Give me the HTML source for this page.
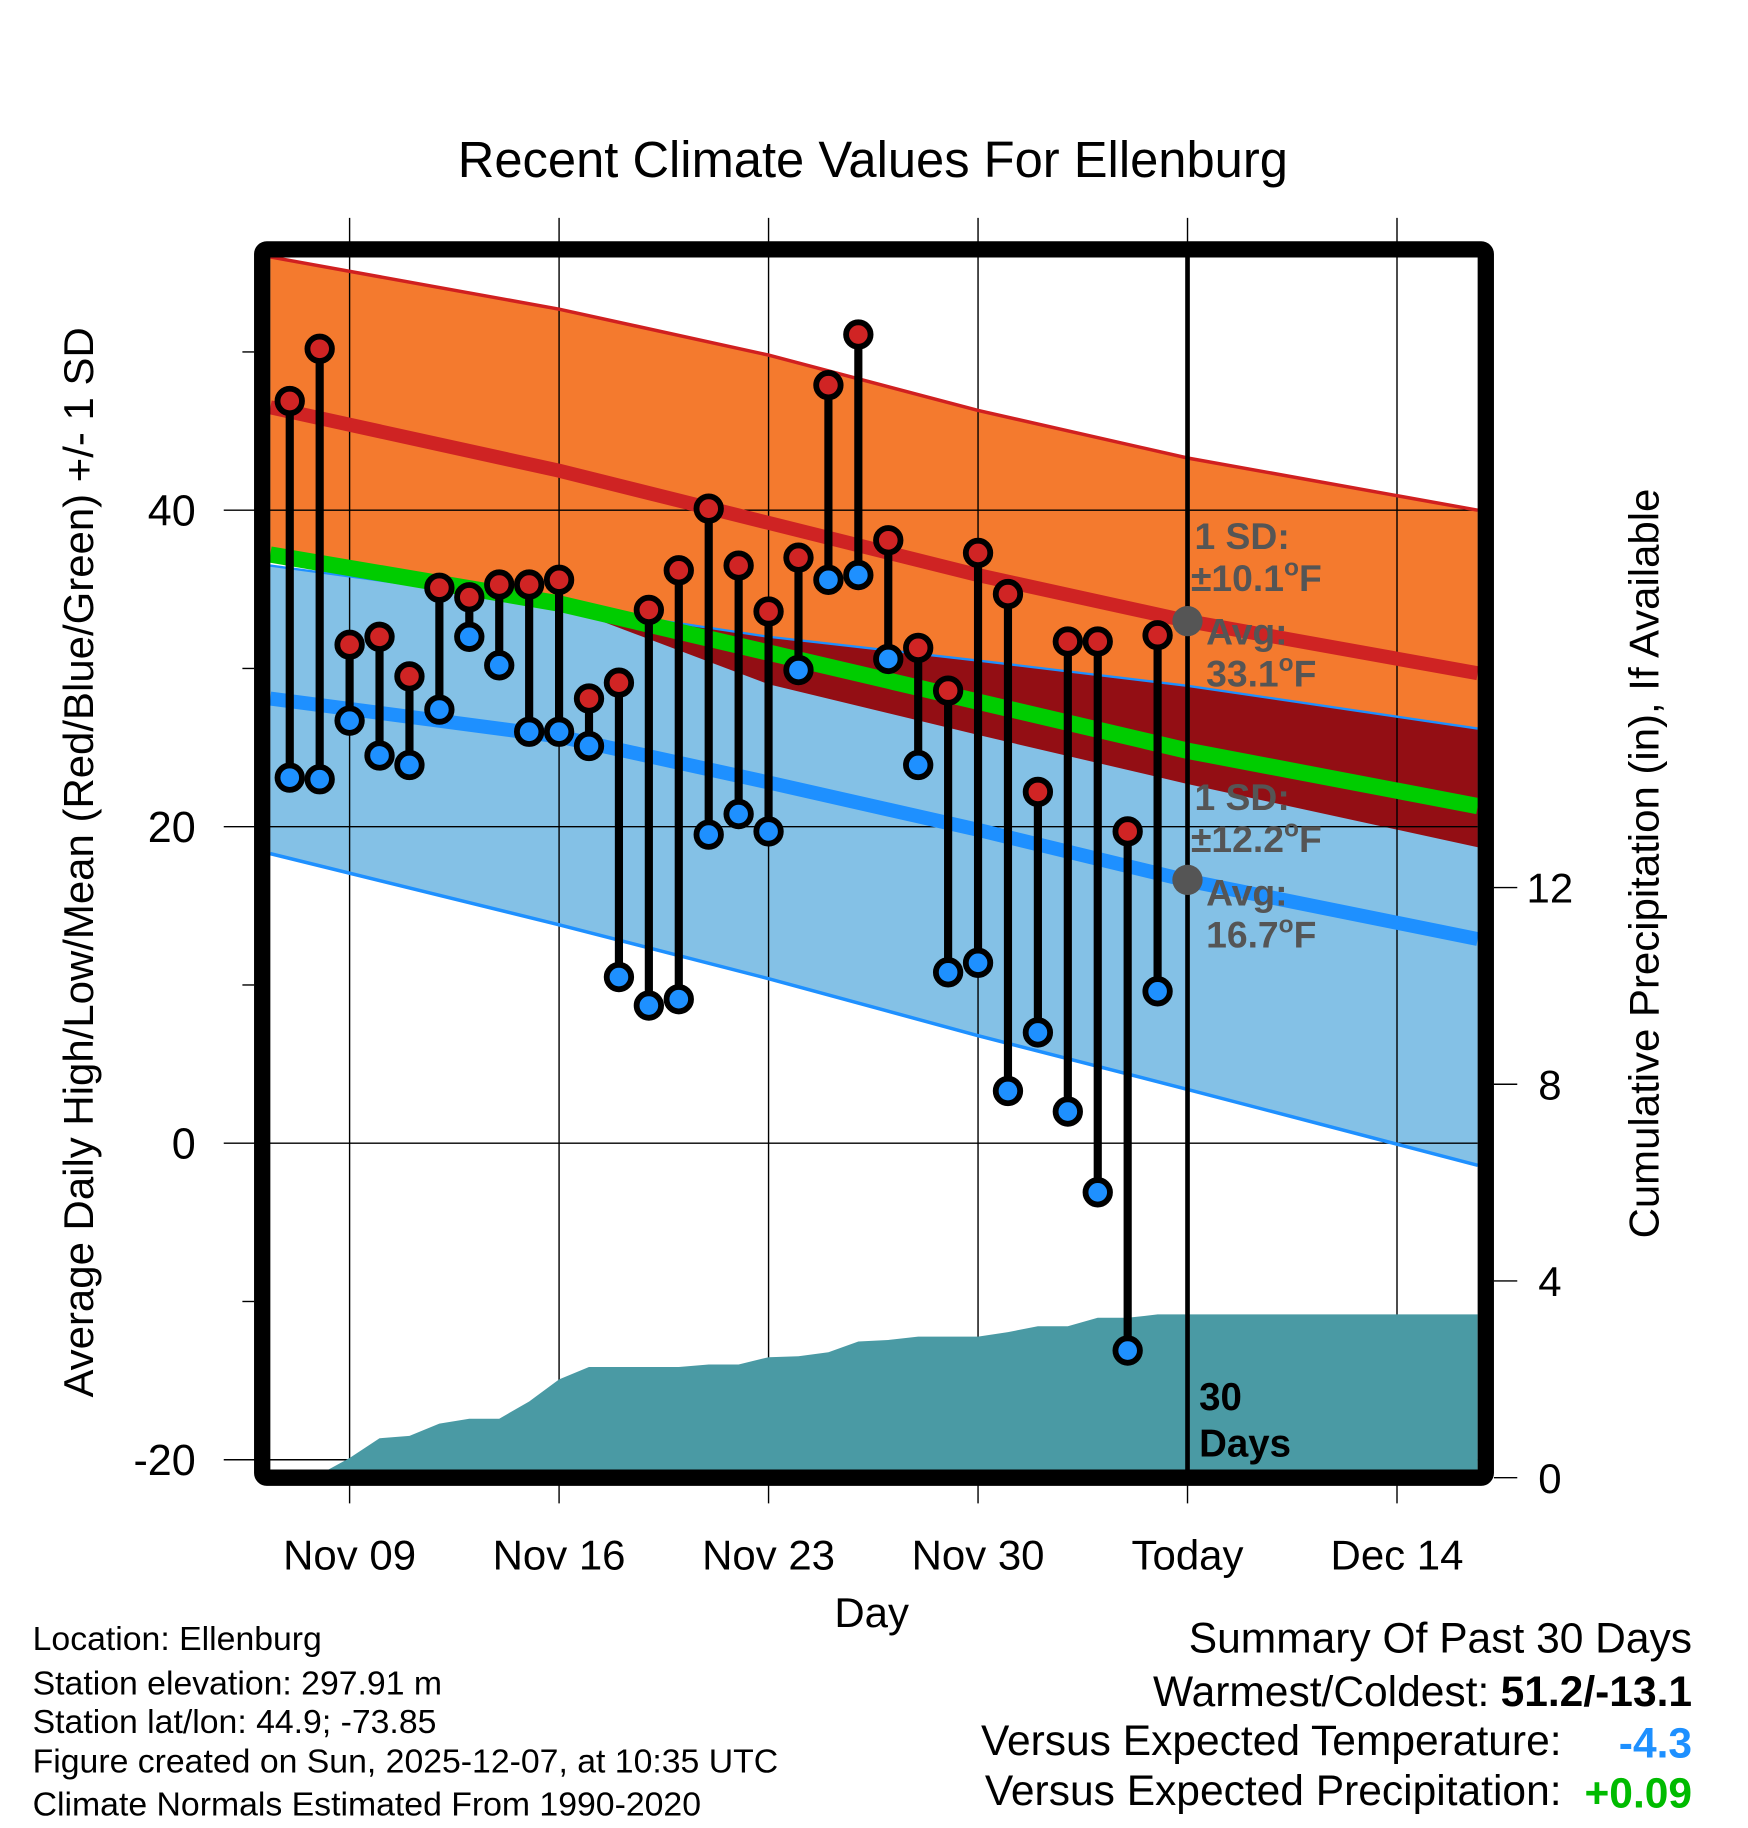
<!DOCTYPE html>
<html><head><meta charset="utf-8"><style>
html,body{margin:0;padding:0;background:#fff;}
svg{display:block;}
text{font-family:"Liberation Sans",Arial,sans-serif;}
</style></head><body>
<svg id="chart" width="1748" height="1828" viewBox="0 0 1500 1568.6" preserveAspectRatio="none" xmlns="http://www.w3.org/2000/svg">
<g id="bands"></g><g id="grid"></g><g id="precip"></g><g id="lines"></g><g id="marks"></g><g id="frame"></g><g id="labels"></g>
</svg>
<script>
// ---- data ----
const days = [-2,-1,0,1,2,3,4,5,6,7,8,9,10,11,12,13,14,15,16,17,18,19,20,21,22,23,24,25,26,27];
const highs = [46.9,50.2,31.5,32.0,29.5,35.1,34.5,35.3,35.3,35.6,28.1,29.1,33.7,36.2,40.1,36.5,33.6,37.0,47.9,51.1,38.1,31.3,28.6,37.3,34.7,22.2,31.7,31.7,19.7,32.1];
const lows = [23.1,23.0,26.7,24.5,23.9,27.4,32.0,30.2,26.0,26.0,25.1,10.5,8.7,9.1,19.5,20.8,19.7,29.9,35.6,35.9,30.6,23.9,10.8,11.4,3.3,7.0,2.0,-3.1,-13.1,9.6];
const precip = [0,0,0.4,0.8,0.85,1.1,1.2,1.2,1.55,2.0,2.25,2.25,2.25,2.25,2.3,2.3,2.45,2.47,2.55,2.77,2.8,2.87,2.87,2.87,2.96,3.08,3.08,3.25,3.25,3.32];
const normDays = [-2.65,7,14,21,28,37.7];
const hiUpper = [56.0,52.7,49.8,46.3,43.3,40.0];
const hiMean = [46.5,42.5,39.2,35.9,33.0,29.7];
const hiLower = [37.0,34.2,29.0,25.8,22.7,18.7];
const loUpper = [36.5,34.0,32.0,30.5,28.9,26.2];
const loMean = [28.1,25.7,22.8,19.8,16.6,12.9];
const loLower = [18.3,13.8,10.4,6.8,3.4,-1.4];
const allMean = [37.2,34.1,31.0,27.9,24.8,21.3];
const yTicks = [40,20,0,-20];
const yMinor = [50,30,10,-10];
const pTicks = [0,4,8,12];
const xTickDays = [0,7,14,21,28,35];
const xTickLabels = ["Nov 09","Nov 16","Nov 23","Nov 30","Today","Dec 14"];

// ---- axes ----
const X = d => 300 + d*25.68;
const Y = v => 981 - v*13.58;
const P = p => 1268 - p*42.2;
const NS="http://www.w3.org/2000/svg";
function mk(parent,tag,attrs){const e=document.createElementNS(NS,tag);for(const k in attrs)e.setAttribute(k,attrs[k]);document.getElementById(parent).appendChild(e);return e;}
function pts(arr){return normDays.map((d,i)=>X(d).toFixed(1)+","+Y(arr[i]).toFixed(1));}
function band(up,lo,fill,name){
  const p=pts(up).concat(pts(lo).reverse()).join(" ");
  const e=mk('bands','polygon',{points:p,fill:fill});
  
  
}
band(hiUpper,hiLower,'#f47a2e','high-sd-band');
band(loUpper,loLower,'#84c1e6','low-sd-band');
// overlap
{const mins=loUpper.map((v,i)=>Math.min(v,hiUpper[i]));const maxs=hiLower.map((v,i)=>Math.max(v,loLower[i]));
 const p=normDays.map((d,i)=>X(d)+","+Y(mins[i])).concat(normDays.map((d,i)=>X(d)+","+Y(Math.min(maxs[i],mins[i]))).reverse()).join(" ");
 const e=mk('bands','polygon',{points:p,fill:'#930e14'});
 
 }
function line(arr,color,w,name){
  const e=mk('lines','polyline',{points:pts(arr).join(" "),fill:'none',stroke:color,'stroke-width':w});
  
  
}
line(hiUpper,'#d02020',3,'high-upper-line');
line(loUpper,'#1e90ff',2,'low-upper-line');
line(loLower,'#1e90ff',3,'low-lower-line');
line(hiMean,'#cf2323',12,'high-mean-line');
line(loMean,'#1e90ff',12,'low-mean-line');
line(allMean,'#00cc00',14,'mean-line');

// grid
xTickDays.forEach((d,i)=>{
  const e=mk('grid','line',{x1:X(d),x2:X(d),y1:187,y2:1290,stroke:'#000','stroke-width':1.2});
  
  
  const t=mk('labels','text',{x:X(d),y:1347,'font-size':36,'text-anchor':'middle'});
  t.textContent=xTickLabels[i];
  
  
});
yTicks.forEach(v=>{
  const e=mk('grid','line',{x1:192,x2:1268,y1:Y(v),y2:Y(v),stroke:'#000','stroke-width':1.2});
  
  
  const t=mk('labels','text',{x:168,y:Y(v)+13,'font-size':37,'text-anchor':'end'});
  t.textContent=v;
  
  
});
yMinor.forEach(v=>{
  const e=mk('grid','line',{x1:208,x2:218,y1:Y(v),y2:Y(v),stroke:'#000','stroke-width':1.2});
  
  
});
pTicks.forEach(p=>{
  const e=mk('grid','line',{x1:1282,x2:1302,y1:P(p),y2:P(p),stroke:'#000','stroke-width':1.2});
  
  
  const t=mk('labels','text',{x:1330,y:P(p)+13,'font-size':36,'text-anchor':'middle'});
  t.textContent=p;
  
  
});

// precip area
{let p=[X(-2.65)+","+1262];
 days.forEach((d,i)=>{let x=X(d);if(i==1)x=280;p.push(x.toFixed(1)+","+Math.min(P(precip[i]),1262).toFixed(1));});
 p.push("1268,"+P(precip[precip.length-1]).toFixed(1));p.push("1268,1262");
 const e=mk('precip','polygon',{points:p.join(" "),fill:'#4a9aa4'});
 
 }

// today line
{const e=mk('lines','line',{x1:X(28),x2:X(28),y1:221,y2:1262,stroke:'#000','stroke-width':4});
 
 }

// marks
days.forEach((d,i)=>{
  const x=X(d);
  const s=mk('marks','line',{x1:x,x2:x,y1:Y(highs[i]),y2:Y(lows[i]),stroke:'#000','stroke-width':7});
  
  
  const h=mk('marks','circle',{cx:x,cy:Y(highs[i]),r:10.5,fill:'#d02424',stroke:'#000','stroke-width':5});
  
  
  const l=mk('marks','circle',{cx:x,cy:Y(lows[i]),r:10.5,fill:'#1e90ff',stroke:'#000','stroke-width':5});
  
  
});
</script>
<svg style="position:absolute;left:0;top:0" width="1748" height="1828" viewBox="0 0 1500 1568.6" preserveAspectRatio="none" xmlns="http://www.w3.org/2000/svg">
<rect x="225" y="214" width="1050" height="1054" rx="4" fill="none" stroke="#000" stroke-width="14"/>
<circle cx="1019" cy="533" r="13" fill="#555"/>
<circle cx="1019" cy="755" r="13" fill="#555"/>
<g font-family="Liberation Sans, sans-serif" font-weight="bold" font-size="32" fill="#555">
<text x="1025" y="471">1 SD:</text>
<text x="1022" y="507">±10.1<tspan font-size="21" dy="-13">o</tspan><tspan dy="13">F</tspan></text>
<text x="1035" y="553">Avg:</text>
<text x="1035" y="589">33.1<tspan font-size="21" dy="-13">o</tspan><tspan dy="13">F</tspan></text>
<text x="1025" y="695">1 SD:</text>
<text x="1022" y="731">±12.2<tspan font-size="21" dy="-13">o</tspan><tspan dy="13">F</tspan></text>
<text x="1035" y="777">Avg:</text>
<text x="1035" y="813">16.7<tspan font-size="21" dy="-13">o</tspan><tspan dy="13">F</tspan></text>
</g>
<g font-family="Liberation Sans, sans-serif" font-weight="bold" font-size="33" fill="#000">
<text x="1029" y="1210">30</text>
<text x="1029" y="1250">Days</text>
</g>
<g font-family="Liberation Sans, sans-serif" fill="#000">
<text x="749" y="152" font-size="43.5" text-anchor="middle">Recent Climate Values For Ellenburg</text>
<text transform="translate(80,740) rotate(-90)" font-size="36" text-anchor="middle">Average Daily High/Low/Mean (Red/Blue/Green) +/- 1 SD</text>
<text transform="translate(1423,741) rotate(-90)" font-size="36" text-anchor="middle">Cumulative Precipitation (in), If Available</text>
<text x="748" y="1396" font-size="36" text-anchor="middle">Day</text>
<g font-size="29">
<text x="28" y="1416">Location: Ellenburg</text>
<text x="28" y="1454">Station elevation: 297.91 m</text>
<text x="28" y="1487">Station lat/lon: 44.9; -73.85</text>
<text x="28" y="1521">Figure created on Sun, 2025-12-07, at 10:35 UTC</text>
<text x="28" y="1558">Climate Normals Estimated From 1990-2020</text>
</g>
<g font-size="36.5">
<text x="1452" y="1418" text-anchor="end">Summary Of Past 30 Days</text>
<text x="1278" y="1464" text-anchor="end">Warmest/Coldest:</text>
<text x="1452" y="1464" text-anchor="end" font-weight="bold">51.2/-13.1</text>
<text x="1340" y="1506" text-anchor="end">Versus Expected Temperature:</text>
<text x="1452" y="1508" text-anchor="end" font-weight="bold" fill="#1e90ff">-4.3</text>
<text x="1340" y="1549" text-anchor="end">Versus Expected Precipitation:</text>
<text x="1452" y="1551" text-anchor="end" font-weight="bold" fill="#00bb00">+0.09</text>
</g>
</g>
</svg>
</body></html>
